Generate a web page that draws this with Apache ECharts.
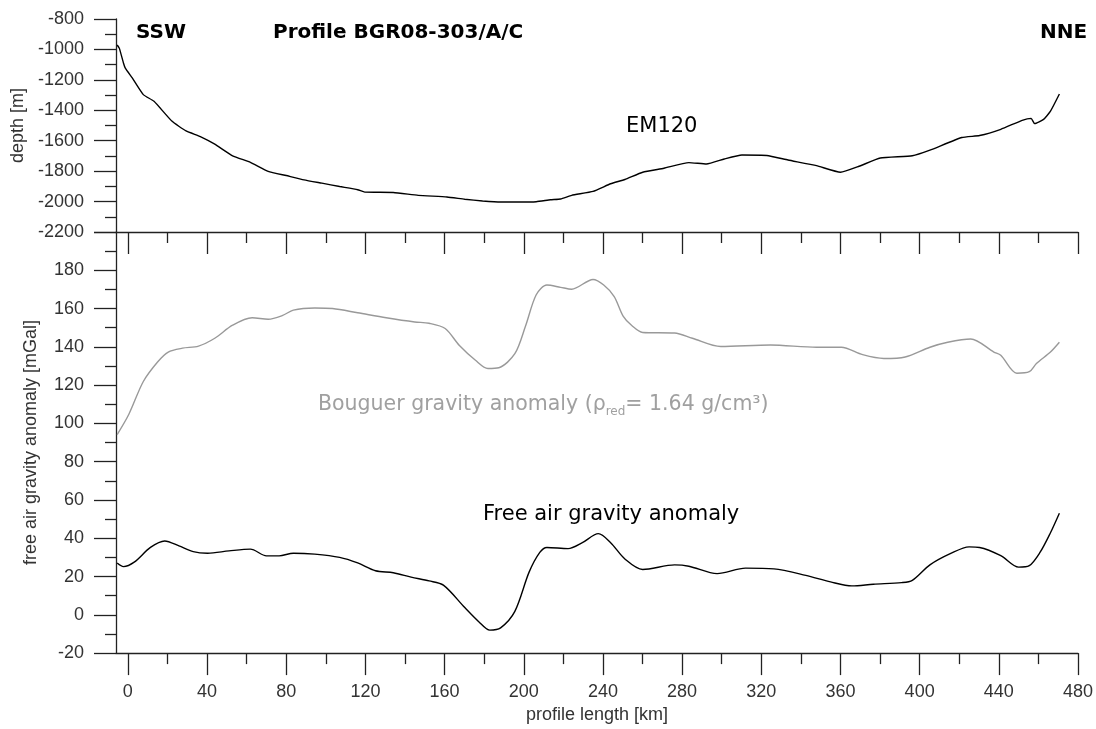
<!DOCTYPE html>
<html><head><meta charset="utf-8">
<script src="https://cdn.jsdelivr.net/npm/echarts@6/dist/echarts.min.js"></script>
<style>html,body{margin:0;padding:0;background:#fff}#c{width:1096px;height:729px}</style>
</head><body><div id="c"></div>
<script>
// x-axis ticks (km)
const kmTicksMajor = [0,40,80,120,160,200,240,280,320,360,400,440,480];
const kmTicksMinor = [20,60,100,140,180,220,260,300,340,380,420,460];

// EM120 bathymetry
const depthKm = [-5.4,-4.3,-2.2,-1.3,2.3,7.8,13.2,22.2,29.4,36.6,43.9,52.9,61.9,70.9,80,89,98,107,116.1,119.7,134.1,146.7,161.2,170.2,179.2,188.3,197.3,206.3,213.5,218.6,224.2,235,243.9,251.1,260.1,270.8,283.4,292.3,301.3,310.2,322.8,333.5,347.9,360,369.4,380.1,396.3,405.2,421.3,430.3,441,451.8,456.3,458.1,462.6,466.1,470.6];
const depthM = [-971,-993,-1091,-1123,-1189,-1297,-1341,-1471,-1536,-1573,-1623,-1699,-1742,-1801,-1829,-1857,-1879,-1901,-1922,-1938,-1940,-1959,-1970,-1985,-1996,-2003,-2003,-2001,-1988,-1983,-1959,-1933,-1883,-1855,-1807,-1781,-1744,-1753,-1720,-1694,-1697,-1727,-1764,-1807,-1768,-1714,-1699,-1662,-1579,-1566,-1525,-1466,-1453,-1488,-1460,-1406,-1293];

// Bouguer gravity anomaly
const bouguerKm = [-5.4,0.5,7.8,15,20.4,27.6,35.7,43.9,52.9,62.8,70.9,78.2,83.6,94.4,103.4,116.1,130.5,144.9,152.2,160.3,167.5,175.6,181.9,187.4,195.5,200.9,206.3,211.7,218.6,224.2,235,240.4,245.7,250.2,254.7,260.1,276.2,285.2,299.5,324.6,347.9,360.4,371.2,381.9,392.7,405.2,414.2,425.8,437.5,441,449.1,455.4,459,466.1,470.6];
const bouguerMGal = [94.2,104.8,121.9,132.1,137.3,139.3,140.4,144.5,151.3,155.2,154.4,156.4,159.2,160.3,160,157.8,155.2,153,152.3,149.6,140.7,133,128.7,129.1,136.4,150.9,167.2,172.3,171.1,170.1,175.2,172.3,166.3,156.1,151,147.5,147.2,144.5,140.2,141,139.8,139.8,135.9,133.9,134.7,139.8,142.4,144.1,137.3,135.6,126.2,127,131.3,137.3,142.4];

// Free air gravity anomaly
const freeAirKm = [-5.4,-2.2,3.2,11.4,18.6,25.8,33,40.3,51.1,61.9,70,76.4,83.6,94.4,107,116.1,125.1,134.1,143.1,152.2,159.4,170.2,177.4,182.8,188.3,195.5,202.7,208.1,211.7,222.4,229.6,237.7,243.9,251.1,260.1,276.2,283.4,297.7,312,326.4,342.5,355,365.8,376.6,390.9,396.3,405.2,416,425,430.3,441,450,455.4,460.8,466.1,470.6];
const freeAirMGal = [27.1,25.2,27.5,35.2,38.6,36,33,32.2,33.4,34.3,30.8,30.8,32.2,31.7,30,27.1,23,22,19.7,17.7,15.5,3.8,-3.7,-8,-6.8,1.8,22.3,32.6,35.2,34.6,37.7,42.4,37.7,29.2,23.7,26.1,25.4,21.5,24.4,24,20.6,17.2,15.1,16,16.8,18,26.1,32.2,35.5,35.2,30.9,24.9,25.7,32.6,42.9,53.1];

const pairs = (xs, ys) => xs.map((x, i) => [x, ys[i]]);

const FONT = "'Liberation Sans', Arial, sans-serif";
const DV = "'DejaVu Sans', sans-serif";
const AX = '#222';
const LBL = '#333';

function xAx(grid, major, labels) {
  return {
    gridIndex: grid, type: 'value', min: -6, max: 480, position: 'bottom',
    axisLine: { show: major, onZero: false, lineStyle: { color: AX, width: 1.3 } },
    axisTick: { show: true, inside: false, length: major ? 22 : 11,
      customValues: major ? kmTicksMajor : kmTicksMinor, lineStyle: { color: AX, width: 1.3 } },
    axisLabel: { show: labels, customValues: kmTicksMajor, margin: 30, color: LBL,
      fontFamily: FONT, fontSize: 18, formatter: v => String(v) },
    splitLine: { show: false },
    name: labels ? 'profile length [km]' : '', nameLocation: 'middle', nameGap: 52,
    nameTextStyle: { color: LBL, fontFamily: FONT, fontSize: 18 }
  };
}

function yAx(grid, min, max, name, gap, hideTop) {
  return {
    gridIndex: grid, type: 'value', min: min, max: max, interval: grid === 0 ? 200 : 20,
    position: 'left',
    axisLine: { show: true, onZero: false, lineStyle: { color: AX, width: 1.3 } },
    axisTick: { show: true, inside: false, length: 22, lineStyle: { color: AX, width: 1.3 } },
    minorTick: { show: true, splitNumber: 2, length: 11, lineStyle: { color: AX, width: 1.3 } },
    axisLabel: { margin: 32, color: LBL, fontFamily: FONT, fontSize: 18,
      formatter: v => (hideTop && v === max) ? '' : String(v) },
    splitLine: { show: false },
    name: name, nameLocation: 'middle', nameGap: gap,
    nameTextStyle: { color: LBL, fontFamily: FONT, fontSize: 18 }
  };
}

const chart = echarts.init(document.getElementById('c'), null, { renderer: 'canvas' });
chart.setOption({
  animation: false,
  backgroundColor: '#fff',
  grid: [
    { left: 116, top: 19, width: 962, height: 213 },
    { left: 116, top: 232, width: 962, height: 427 }
  ],
  xAxis: [xAx(0, true, false), xAx(0, false, false), xAx(1, true, true), xAx(1, false, false)],
  yAxis: [
    yAx(0, -2200, -800, 'depth [m]', 84, false),
    yAx(1, -20, 200, 'free air gravity anomaly [mGal]', 76, true)
  ],
  series: [
    { type: 'line', xAxisIndex: 0, yAxisIndex: 0, data: pairs(depthKm, depthM), showSymbol: false,
      lineStyle: { color: '#000', width: 1.4 }, smooth: 0.15 },
    { type: 'line', xAxisIndex: 2, yAxisIndex: 1, data: pairs(bouguerKm, bouguerMGal), showSymbol: false,
      lineStyle: { color: '#999', width: 1.4 }, smooth: 0.3 },
    { type: 'line', xAxisIndex: 2, yAxisIndex: 1, data: pairs(freeAirKm, freeAirMGal), showSymbol: false,
      lineStyle: { color: '#000', width: 1.4 }, smooth: 0.3 }
  ],
  graphic: [
    { type: 'text', x: 136, y: 33, style: { text: 'SSW', fontFamily: DV, fontWeight: 'bold', fontSize: 20, fill: '#000', verticalAlign: 'middle' } },
    { type: 'text', x: 273, y: 33, style: { text: 'Profile BGR08-303/A/C', fontFamily: DV, fontWeight: 'bold', fontSize: 20, fill: '#000', verticalAlign: 'middle' } },
    { type: 'text', x: 1040, y: 33, style: { text: 'NNE', fontFamily: DV, fontWeight: 'bold', fontSize: 20, fill: '#000', verticalAlign: 'middle' } },
    { type: 'text', x: 626, y: 127, style: { text: 'EM120', fontFamily: DV, fontSize: 21, fill: '#000', verticalAlign: 'middle' } },
    { type: 'text', x: 483, y: 515, style: { text: 'Free air gravity anomaly', fontFamily: DV, fontSize: 21, fill: '#000', verticalAlign: 'middle' } },
    { type: 'text', x: 318, y: 405, style: {
      text: '{a|Bouguer gravity anomaly (ρ}{b|red}{a|= 1.64 g/cm³)}',
      verticalAlign: 'middle',
      rich: {
        a: { fontFamily: DV, fontSize: 20.5, fill: '#a0a0a0', color: '#a0a0a0', lineHeight: 26 },
        b: { fontFamily: DV, fontSize: 12, fill: '#a0a0a0', color: '#a0a0a0', verticalAlign: 'bottom', lineHeight: 16 }
      } } }
  ]
});
</script>
</body></html>
